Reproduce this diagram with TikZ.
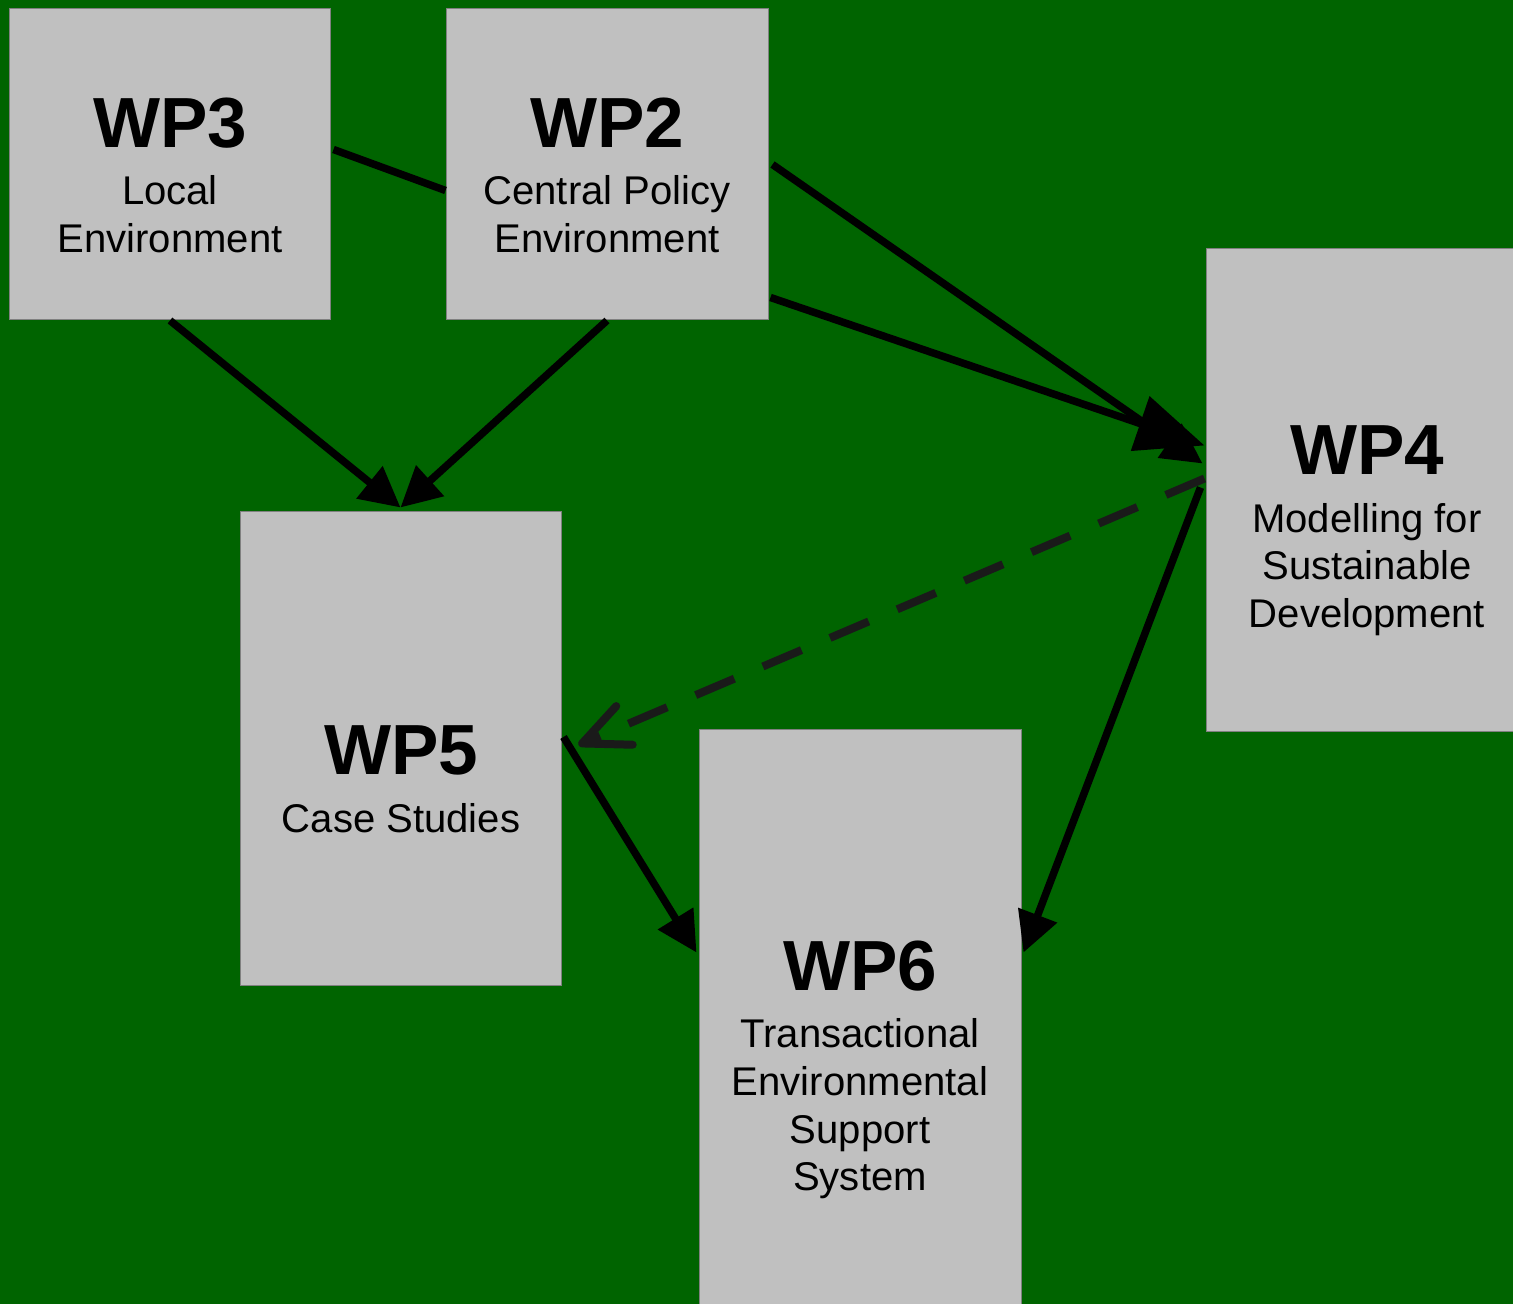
\documentclass[tikz,border=0pt]{standalone}
\usepackage{fontspec}
\setmainfont{Liberation Sans}
\usepackage{xcolor}
\usepackage{tikz}
\usetikzlibrary{arrows.meta, calc}

\definecolor{bggreen}{HTML}{006400}
\definecolor{boxgray}{HTML}{C0C0C0}
\definecolor{dashgray}{HTML}{1A1A1A}
\newcommand{\wptitle}{\fontsize{20.2pt}{24pt}\selectfont\bfseries}

\begin{document}
\begin{tikzpicture}[x=0.1mm,y=-0.1mm,
  wpbox/.style={draw=gray,line width=0.1mm,fill=boxgray,minimum width=32.2mm,inner sep=0},
  wptext/.style={anchor=north,align=center,inner sep=0,font=\fontsize{11.4pt}{13.55pt}\selectfont},
  flow/.style={line width=0.75mm,black,-{Triangle[length=4mm,width=4mm]}}]
\clip (0,0) rectangle (1513,1304);
\fill[bggreen] (0,0) rectangle (1513,1304);

\node[wpbox,minimum height=31.1mm] (wp3) at (170,164.5) {};
\node[wpbox,minimum height=31.1mm] (wp2) at (607,164.5) {};
\node[wpbox,minimum height=48.3mm] (wp4) at (1367,490.5) {};
\node[wpbox,minimum width=32.1mm,minimum height=47.4mm] (wp5) at (400.5,749) {};
\node[wpbox,minimum height=60mm] (wp6) at (860,1030) {};

\node[wptext] (wp3t) at (170,97) {{\wptitle WP3}\\[1mm] Local\\Environment};
\node[wptext] (wp2t) at (607,97) {{\wptitle WP2}\\[1mm] Central Policy\\Environment};
\node[wptext] (wp4t) at (1367,425) {{\wptitle WP4}\\[1mm] Modelling for\\Sustainable\\Development};
\node[wptext] (wp5t) at (401,725) {{\wptitle WP5}\\[1mm] Case Studies};
\node[wptext] (wp6t) at (860,940) {{\wptitle WP6}\\[1mm] Transactional\\Environmental\\Support\\System};

\draw[line width=0.75mm] ($(wp3.east)+(2,-15)$) -- ($(wp2.west)+(0,26)$);
\draw[flow] (wp3.south) -- ($(wp5.north)+(0,-4)$);
\draw[flow] (wp2.south) -- ($(wp5.north)+(0,-4)$);
\draw[flow] ($(wp2.east)+(4,0)$) -- ($(wp4.west)+(-3,-27)$);
\draw[flow,-{Triangle[length=6.8mm,width=5.6mm]}] ($(wp2.east)+(2,133)$) -- ($(wp4.west)+(-1,-45)$);
\draw[flow] ($(wp4.west)+(-5,-3)$) -- ($(wp6.north east)+(2,223)$);
\draw[flow] ($(wp5.east)+(2,-12)$) -- ($(wp6.north west)+(-2,223)$);
\draw[line width=0.8mm,dashgray,dash pattern=on 4.2mm off 3.1mm,-{Straight Barb[round,length=4.6mm,width=4.2mm]}] ($(wp4.west)+(-1,-12)$) -- ($(wp5.east)+(17,-4)$);
\end{tikzpicture}
\end{document}
